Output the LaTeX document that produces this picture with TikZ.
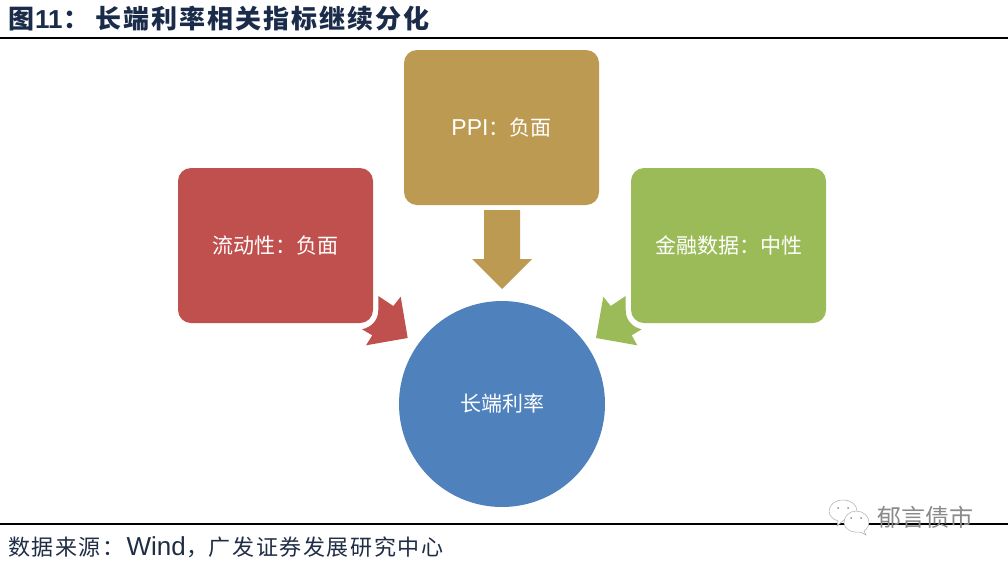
\documentclass[tikz,border=0pt]{standalone}
\usepackage{fontspec}
\setmainfont{Liberation Sans}
\newfontfamily\cjk{Noto Sans CJK SC}
\definecolor{cred}{HTML}{C0504D}
\definecolor{cbrown}{HTML}{BD9A52}
\definecolor{cgreen}{HTML}{9BBB59}
\definecolor{cblue}{HTML}{4F81BD}
\definecolor{ctitle}{HTML}{1B2C4A}
\definecolor{cfoot}{HTML}{1F2D45}
\definecolor{cmark}{HTML}{8A8A8A}
\newcommand{\tsp}{\hspace{2pt}}
\newcommand{\fsp}{\hspace{1.6pt}}
\tikzset{
  x=1pt,y=-1pt,
  card/.style={rounded corners=13pt,minimum width=195pt,minimum height=155pt,inner sep=0pt,text=white,font=\fontsize{21}{24}\selectfont},
  hub/.style={circle,minimum size=206pt,inner sep=0pt,fill=cblue,text=white,font=\fontsize{21}{24}\selectfont},
  rulel/.style={line width=2pt,black},
  bubble/.style={draw=cmark!70,line width=.5pt,fill=white}
}
\begin{document}
\begin{tikzpicture}
\useasboundingbox (0,0) rectangle (1008,563);
\fill[white] (0,0) rectangle (1008,563);
\node[anchor=west,inner sep=0pt,text=ctitle,font=\fontsize{26}{30}\selectfont\bfseries] (title) at (8,18)
  {\cjk 图\hspace{1pt}{\rmfamily 11}\hspace{1pt}：\hspace{6pt}长\tsp 端\tsp 利\tsp 率\tsp 相\tsp 关\tsp 指\tsp 标\tsp 继\tsp 续\tsp 分\tsp 化};
\coordinate (tl) at (0,38); \coordinate (tr) at (1008,38);
\draw[rulel] (tl) -- (tr);
\coordinate (bl) at (0,524); \coordinate (br) at (1008,524);
\draw[rulel] (bl) -- (br);

\node[card,fill=cred] (liq) at (275.5,245.5) {\raisebox{2pt}{\cjk 流动性：负面}};
\node[card,fill=cbrown] (ppi) at (501.5,127.5) {\raisebox{2pt}{{\fontsize{23}{24}\selectfont PPI}{\cjk ：负面}}};
\node[card,fill=cgreen] (fin) at (728.5,245.5) {\raisebox{2pt}{\cjk 金融数据：中性}};
\node[hub] (rate) at (502,404) {\raisebox{2pt}{\cjk 长端利率}};

\fill[cred] (378.3,296) -- (393.3,306) -- (400.7,296.7) -- (407.7,338) -- (366,345.3) -- (372.3,335.3) -- (362,329.3)
  .. controls (372,327) and (378.3,320) .. (378.3,310) -- cycle;
\fill[cgreen] (625.7,296) -- (610.7,306) -- (603.3,296.7) -- (596,338) -- (637.3,345.3) -- (631.7,335.3) -- (641.7,329.3)
  .. controls (632,327) and (625.7,320) .. (625.7,310) -- cycle;
\fill[cbrown] (484,210) -- (520,210) -- (520,259) -- (532,259) -- (502,289) -- (472,259) -- (484,259) -- cycle;

\node[anchor=west,inner sep=0pt,text=cfoot,font=\fontsize{22}{25}\selectfont] (src) at (8,547)
  {\cjk 数\fsp 据\fsp 来\fsp 源\fsp ：\hspace{2pt}{\rmfamily\fontsize{26}{25}\selectfont Wind}\hspace{1pt}，广\fsp 发\fsp 证\fsp 券\fsp 发\fsp 展\fsp 研\fsp 究\fsp 中\fsp 心};

% watermark
\draw[bubble] (845,519) -- (837,526) -- (838,521) .. controls (832,519) and (829,515) .. (829,511) .. controls (829,505) and (835,500) .. (843,500) .. controls (851,500) and (857,505) .. (857,511) .. controls (857,516) and (852,519) .. (845,519) -- cycle;
\fill[cmark] (838,508) circle (1pt) (848,508) circle (1pt);
\draw[bubble] (844,522) .. controls (844,516) and (850,511) .. (856,511) .. controls (863,511) and (869,516) .. (869,522) .. controls (869,526) and (866,530) .. (864,531) -- (866,535) -- (860,532) .. controls (851,533) and (844,529) .. (844,522) -- cycle;
\fill[cmark] (851,518) circle (1pt) (861,518) circle (1pt);
\node[anchor=west,inner sep=0pt,text=cmark,font=\fontsize{24}{28}\selectfont] (mark) at (877,517) {\cjk 郁言债市};
\end{tikzpicture}
\end{document}
